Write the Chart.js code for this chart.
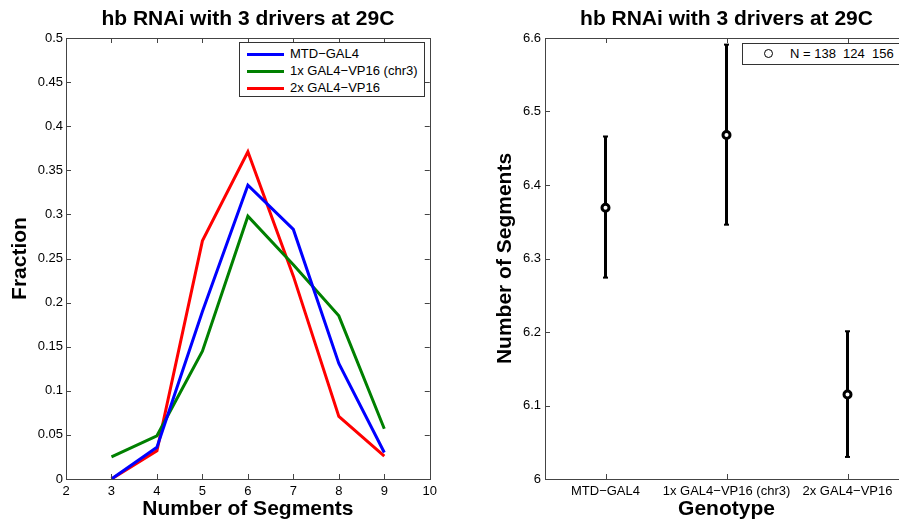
<!DOCTYPE html>
<html>
<head>
<meta charset="utf-8">
<script src="https://cdn.jsdelivr.net/npm/chart.js@4/dist/chart.umd.min.js"></script>
<style>
  html, body { margin: 0; padding: 0; background: #fff; overflow: hidden; width: 899px; height: 522px; }
  body { position: relative; font-family: "Liberation Sans", Arial, sans-serif; }
  canvas { position: absolute; top: 0; }
  .legend { position: absolute; border: 1px solid #333; background: #fff; font-size: 13px; color: #000; }
  .legend .row { position: absolute; white-space: pre; line-height: 16px; }
  .legend .swatch { position: absolute; height: 3px; }
  .legend .circ { position: absolute; width: 7px; height: 7px; border: 1px solid #000; border-radius: 50%; }
</style>
</head>
<body>
<canvas id="distChart" width="442" height="522" style="left:0"></canvas>
<canvas id="meanChart" width="465" height="522" style="left:450px"></canvas>
<div id="legendLeft" class="legend" style="left:239px; top:42px; width:184px; height:53px"></div>
<div id="legendRight" class="legend" style="left:742px; top:43px; width:200px; height:20px"></div>
<script>
// left panel: fraction of embryos per segment count
var segments = [3, 4, 5, 6, 7, 8, 9];
var mtdGal4 = [0, 0.036, 0.19, 0.333, 0.283, 0.131, 0.030];
var oneXVp16 = [0.025, 0.049, 0.145, 0.298, 0.243, 0.185, 0.057];
var twoXVp16 = [0, 0.032, 0.270, 0.371, 0.230, 0.071, 0.026];
var driverNames = ['MTD\u2212GAL4', '1x GAL4\u2212VP16 (chr3)', '2x GAL4\u2212VP16'];
var driverColors = ['#0000ff', '#008000', '#ff0000'];

// right panel: mean number of segments with error bars
var genotypes = ['MTD\u2212GAL4', '1x GAL4\u2212VP16 (chr3)', '2x GAL4\u2212VP16'];
var meanSeg = [6.369, 6.468, 6.115];
var errLow = [6.274, 6.346, 6.030];
var errHigh = [6.466, 6.591, 6.201];
var nEmbryos = [138, 124, 156];

var titleText = 'hb RNAi with 3 drivers at 29C';
var fontFam = '"Liberation Sans", Arial, sans-serif';

function fmt(v) { return String(+v.toFixed(2)); }

function line(ctx, x1, y1, x2, y2) {
    ctx.beginPath(); ctx.moveTo(x1, y1); ctx.lineTo(x2, y2); ctx.stroke();
}

// matlab style box with inward ticks on every side
var boxAxes = {
    id: 'boxAxes',
    afterDraw: function(chart) {
        var ctx = chart.ctx, a = chart.chartArea, sx = chart.scales.x, sy = chart.scales.y;
        ctx.save();
        ctx.strokeStyle = '#444';
        ctx.lineWidth = 1;
        for (var i = 0; i < sx.ticks.length; i++) {
            var px = Math.round(sx.getPixelForTick(i)) + 0.5;
            line(ctx, px, a.bottom, px, a.bottom - 5);
            line(ctx, px, a.top, px, a.top + 5);
        }
        for (var j = 0; j < sy.ticks.length; j++) {
            var py = Math.round(sy.getPixelForTick(j)) + 0.5;
            line(ctx, a.left, py, a.left + 5, py);
            line(ctx, a.right, py, a.right - 5, py);
        }
        ctx.strokeRect(Math.round(a.left) + 0.5, Math.round(a.top) + 0.5, Math.round(a.width), Math.round(a.height));
        ctx.restore();
    }
};

var errorBars = {
    id: 'errorBars',
    beforeDatasetsDraw: function(chart) {
        var ctx = chart.ctx, sx = chart.scales.x, sy = chart.scales.y;
        ctx.save();
        ctx.strokeStyle = '#000';
        for (var i = 0; i < meanSeg.length; i++) {
            var px = sx.getPixelForValue(i);
            var lo = sy.getPixelForValue(errLow[i]);
            var hi = sy.getPixelForValue(errHigh[i]);
            ctx.lineWidth = 3;
            line(ctx, px, lo, px, hi);
            ctx.lineWidth = 2;
            line(ctx, px - 2.5, lo, px + 2.5, lo);
            line(ctx, px - 2.5, hi, px + 2.5, hi);
        }
        ctx.restore();
    }
};

function axisTitle(text, pad) {
    return { display: true, text: text, color: '#000', padding: pad,
             font: { family: fontFam, size: 21, weight: 'bold', lineHeight: 1.2 } };
}
function chartTitle() {
    return { display: true, text: titleText, color: '#000', fullSize: false,
             padding: { top: 7, bottom: 5.8 },
             font: { family: fontFam, size: 21, weight: 'bold', lineHeight: 1.2 } };
}
var tickFont = { family: fontFam, size: 13 };
var noGrid = { display: false, drawTicks: false, tickLength: 0 };

Chart.defaults.font.family = fontFam;
Chart.defaults.color = '#000';

var distSets = [mtdGal4, oneXVp16, twoXVp16].map(function(vals, k) {
    return {
        label: driverNames[k],
        data: segments.map(function(s, i) { return { x: s, y: vals[i] }; }),
        borderColor: driverColors[k],
        borderWidth: 3,
        pointRadius: 0,
        tension: 0,
        fill: false
    };
});

new Chart(document.getElementById('distChart'), {
    type: 'line',
    data: { datasets: distSets },
    options: {
        responsive: false,
        animation: false,
        layout: { padding: 0 },
        plugins: {
            legend: { display: false },
            tooltip: { enabled: false },
            title: chartTitle()
        },
        scales: {
            x: {
                type: 'linear', min: 2, max: 10,
                ticks: { stepSize: 1, font: tickFont, color: '#000', padding: 5, maxRotation: 0 },
                grid: noGrid,
                border: { display: false },
                title: axisTitle('Number of Segments', { top: 0, bottom: 0 }),
                afterFit: function(s) { s.height = 43; }
            },
            y: {
                min: 0, max: 0.5,
                ticks: { stepSize: 0.05, font: tickFont, color: '#000', padding: 3, callback: fmt },
                grid: noGrid,
                border: { display: false },
                title: axisTitle('Fraction', { top: 8, bottom: 0 }),
                afterFit: function(s) { s.width = 66; }
            }
        }
    },
    plugins: [boxAxes]
});

new Chart(document.getElementById('meanChart'), {
    type: 'line',
    data: {
        labels: genotypes,
        datasets: [{
            label: 'N = ' + nEmbryos.join('  '),
            data: meanSeg,
            showLine: false,
            pointRadius: 3.5,
            pointBorderWidth: 3,
            pointBorderColor: '#000',
            pointBackgroundColor: '#fff'
        }]
    },
    options: {
        responsive: false,
        animation: false,
        layout: { padding: 0 },
        plugins: {
            legend: { display: false },
            tooltip: { enabled: false },
            title: chartTitle()
        },
        scales: {
            x: {
                type: 'category', offset: true,
                ticks: { font: tickFont, color: '#000', padding: 5, maxRotation: 0, autoSkip: false },
                grid: { display: false, drawTicks: false, tickLength: 0, offset: false },
                border: { display: false },
                title: axisTitle('Genotype', { top: 0, bottom: 0 }),
                afterFit: function(s) { s.height = 43; }
            },
            y: {
                min: 6, max: 6.6,
                ticks: { stepSize: 0.1, font: tickFont, color: '#000', padding: 4, callback: fmt },
                grid: noGrid,
                border: { display: false },
                title: axisTitle('Number of Segments', { top: 43, bottom: 0 }),
                afterFit: function(s) { s.width = 95; }
            }
        }
    },
    plugins: [errorBars, boxAxes]
});

// legends drawn as html boxes like the matlab ones
var legL = document.getElementById('legendLeft');
driverNames.forEach(function(name, k) {
    var sw = document.createElement('div');
    sw.className = 'swatch';
    sw.style.cssText = 'left:7px; width:37px; top:' + (10 + 17 * k) + 'px; background:' + driverColors[k];
    legL.appendChild(sw);
    var tx = document.createElement('div');
    tx.className = 'row';
    tx.style.cssText = 'left:50px; top:' + (3 + 17 * k) + 'px';
    tx.textContent = name;
    legL.appendChild(tx);
});
var legR = document.getElementById('legendRight');
var c = document.createElement('div');
c.className = 'circ';
c.style.cssText = 'left:21px; top:5px';
legR.appendChild(c);
var t = document.createElement('div');
t.className = 'row';
t.style.cssText = 'left:47px; top:2px';
t.textContent = 'N = ' + nEmbryos.join('  ');
legR.appendChild(t);
</script>
</body>
</html>
